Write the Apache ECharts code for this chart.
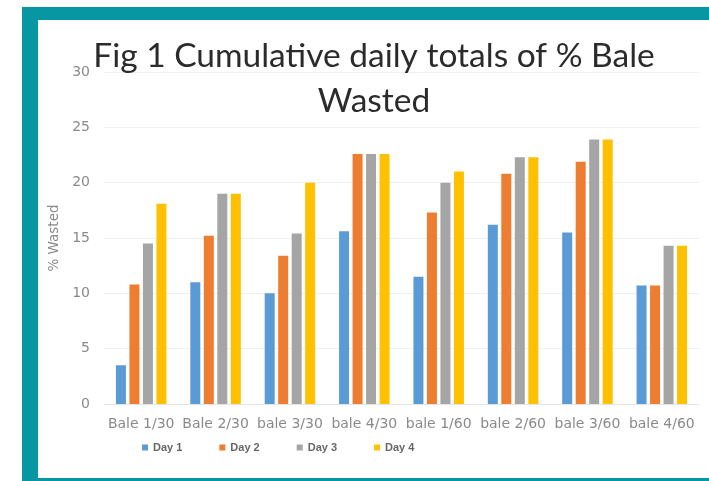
<!DOCTYPE html>
<html>
<head>
<meta charset="utf-8">
<script src="https://cdn.jsdelivr.net/npm/echarts@6/dist/echarts.min.js"></script>
<style>
  html, body { margin: 0; padding: 0; background: #fff; }
  #chart { width: 709px; height: 481px; }
</style>
</head>
<body>
<div id="chart"></div>
<script>
  var categories = ['Bale 1/30', 'Bale 2/30', 'bale 3/30', 'bale 4/30', 'bale 1/60', 'bale 2/60', 'bale 3/60', 'bale 4/60'];
  var day1 = [3.5, 11.0, 10.0, 15.6, 11.5, 16.2, 15.5, 10.7];
  var day2 = [10.8, 15.2, 13.4, 22.6, 17.3, 20.8, 21.9, 10.7];
  var day3 = [14.5, 19.0, 15.4, 22.6, 20.0, 22.3, 23.9, 14.3];
  var day4 = [18.1, 19.0, 20.0, 22.6, 21.0, 22.3, 23.9, 14.3];
  var yTicks = [0, 5, 10, 15, 20, 25, 30];

  var colors = ['#5b9bd5', '#ed7d31', '#a5a5a5', '#ffc000'];
  var teal = '#0797a3';

  var chart = echarts.init(document.getElementById('chart'));

  function bar(name, data) {
    return {
      name: name,
      type: 'bar',
      data: data,
      barWidth: 10,
      barGap: '35%'
    };
  }

  var option = {
    animation: false,
    color: colors,
    title: {
      text: 'Fig 1 Cumulative daily totals of % Bale\nWasted',
      left: 369,
      textAlign: 'center',
      top: 29,
      textStyle: {
        fontFamily: 'Lato',
        fontWeight: 'normal',
        fontSize: 33.5,
        lineHeight: 45,
        color: '#2b2b2b'
      }
    },
    // teal frame round the figure
    graphic: [
      {type: 'rect', shape: {x: 22, y: 7, width: 687, height: 13}, style: {fill: teal}},
      {type: 'rect', shape: {x: 22, y: 7, width: 16, height: 474}, style: {fill: teal}},
      {type: 'rect', shape: {x: 22, y: 478, width: 687, height: 3}, style: {fill: teal}}
    ],
    legend: {
      data: ['Day 1', 'Day 2', 'Day 3', 'Day 4'],
      left: 137,
      top: 437,
      icon: 'rect',
      itemWidth: 6,
      itemHeight: 6,
      itemGap: 37,
      textStyle: {
        fontFamily: 'Liberation Sans',
        fontSize: 11,
        fontWeight: 'bold',
        color: '#666'
      }
    },
    grid: {
      left: 104,
      right: 10,
      top: 72,
      bottom: 77
    },
    xAxis: {
      type: 'category',
      data: categories,
      axisLine: {lineStyle: {color: '#e4e4e4'}},
      axisTick: {show: false},
      axisLabel: {
        interval: 0,
        margin: 13,
        fontFamily: 'DejaVu Sans',
        fontSize: 14,
        color: '#8a8a8a'
      }
    },
    yAxis: {
      type: 'value',
      min: yTicks[0],
      max: yTicks[yTicks.length - 1],
      interval: 5,
      name: '% Wasted',
      nameLocation: 'middle',
      nameGap: 34,
      nameTextStyle: {
        fontFamily: 'DejaVu Sans',
        fontSize: 13.5,
        color: '#8a8a8a'
      },
      axisLine: {show: false},
      axisTick: {show: false},
      axisLabel: {
        margin: 14,
        fontFamily: 'DejaVu Sans',
        fontSize: 14,
        color: '#8a8a8a'
      },
      splitLine: {lineStyle: {color: '#f0f0f0'}}
    },
    series: [
      bar('Day 1', day1),
      bar('Day 2', day2),
      bar('Day 3', day3),
      bar('Day 4', day4)
    ]
  };

  chart.setOption(option);
</script>
</body>
</html>
